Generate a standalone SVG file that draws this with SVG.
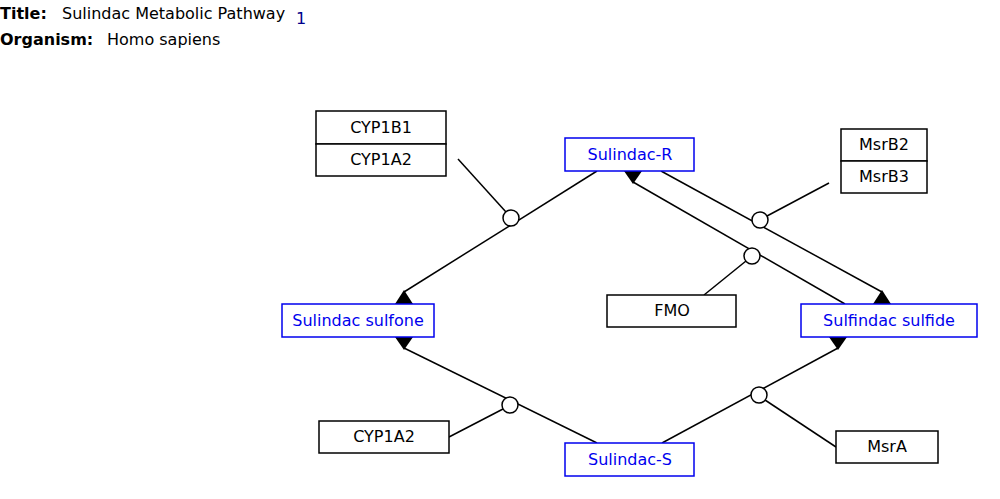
<svg xmlns="http://www.w3.org/2000/svg" width="1000" height="499" viewBox="0 0 1000 499">
<style>
text{font-family:"DejaVu Sans",sans-serif;font-size:16px}
.lbl{text-anchor:middle}
.gp rect{fill:#fff;stroke:#000;stroke-width:1.5}
.met rect{fill:#fff;stroke:#0000ee;stroke-width:1.5}
.met text{fill:#0000ee}
.ln{stroke:#000;stroke-width:1.5;fill:none}
.ah{fill:#000;stroke:none}
.cat{fill:#fff;stroke:#000;stroke-width:1.5}
</style>
<rect width="1000" height="499" fill="#fff"/>
<g id="header">
<text x="0" y="19" font-weight="bold">Title:</text>
<text x="62" y="19">Sulindac Metabolic Pathway</text>
<text x="296" y="24" font-size="12" fill="#00008b">1</text>
<text x="0" y="45" font-weight="bold">Organism:</text>
<text x="107" y="45">Homo sapiens</text>
</g>
<g id="connectors">
<line class="ln" x1="597" y1="171" x2="404" y2="292"/>
<polygon class="ah" points="404,290 395,304 413,304"/>
<line class="ln" x1="661" y1="171" x2="882" y2="292"/>
<polygon class="ah" points="882,290 873,304 891,304"/>
<line class="ln" x1="845" y1="304" x2="633" y2="182"/>
<polygon class="ah" points="633,184 624,171 642,171"/>
<line class="ln" x1="597" y1="443" x2="404" y2="348"/>
<polygon class="ah" points="404,350 395,337 413,337"/>
<line class="ln" x1="662" y1="443" x2="838" y2="348"/>
<polygon class="ah" points="838,350 829,337 847,337"/>
<line class="ln" x1="458" y1="159" x2="506" y2="212"/>
<line class="ln" x1="829" y1="183" x2="767" y2="216"/>
<line class="ln" x1="704" y1="295" x2="746" y2="261"/>
<line class="ln" x1="449" y1="437" x2="503" y2="409"/>
<line class="ln" x1="836" y1="447" x2="765" y2="400"/>
<circle class="cat" cx="511" cy="218" r="8"/>
<circle class="cat" cx="760" cy="220" r="8"/>
<circle class="cat" cx="752" cy="256" r="8"/>
<circle class="cat" cx="510" cy="405" r="8"/>
<circle class="cat" cx="759" cy="395" r="8"/>
</g>
<g id="cyp1b1" class="gp"><rect x="316" y="111" width="130" height="33"/><text class="lbl" x="381" y="133">CYP1B1</text></g>
<g id="cyp1a2_top" class="gp"><rect x="316" y="144" width="130" height="32"/><text class="lbl" x="381" y="165">CYP1A2</text></g>
<g id="sulindac_r" class="met"><rect x="565" y="138" width="129" height="33"/><text class="lbl" x="630" y="160">Sulindac-R</text></g>
<g id="msrb2" class="gp"><rect x="841" y="129" width="86" height="32"/><text class="lbl" x="884" y="150">MsrB2</text></g>
<g id="msrb3" class="gp"><rect x="841" y="161" width="86" height="32"/><text class="lbl" x="884" y="182">MsrB3</text></g>
<g id="sulindac_sulfone" class="met"><rect x="282" y="304" width="152" height="33"/><text class="lbl" x="358" y="326">Sulindac sulfone</text></g>
<g id="fmo" class="gp"><rect x="607" y="295" width="129" height="32"/><text class="lbl" x="672" y="316">FMO</text></g>
<g id="sulfindac_sulfide" class="met"><rect x="801" y="304" width="176" height="33"/><text class="lbl" x="889" y="326">Sulfindac sulfide</text></g>
<g id="cyp1a2_bottom" class="gp"><rect x="319" y="421" width="130" height="32"/><text class="lbl" x="384" y="442">CYP1A2</text></g>
<g id="sulindac_s" class="met"><rect x="565" y="443" width="129" height="33"/><text class="lbl" x="630" y="465">Sulindac-S</text></g>
<g id="msra" class="gp"><rect x="836" y="431" width="102" height="32"/><text class="lbl" x="887" y="452">MsrA</text></g>
</svg>
